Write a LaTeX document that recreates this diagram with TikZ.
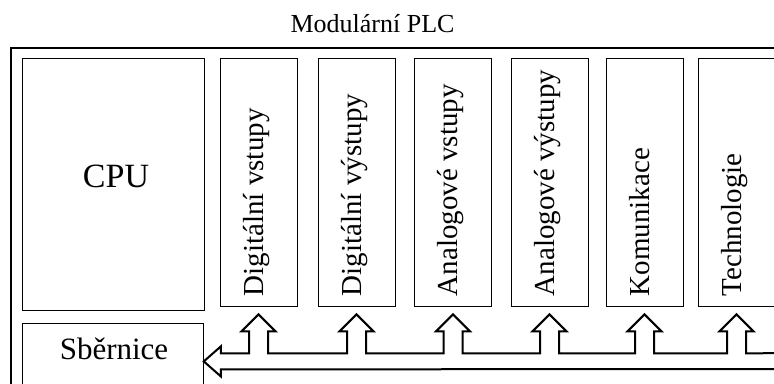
\documentclass[tikz,border=0pt]{standalone}
\usepackage{fontspec}
\setmainfont{Liberation Serif}
\usetikzlibrary{calc}

\begin{document}
\begin{tikzpicture}[x=1pt, y=-1pt,
  ramec/.style={draw, line width=0.8pt, inner sep=0pt},
  modul/.style={ramec, minimum width=77pt, minimum height=248pt},
  popis/.style={rotate=90, anchor=base west, inner sep=0pt, font=\fontsize{29}{29}\selectfont},
  sbernice/.style={draw, line width=2pt, line join=miter}]
\clip (0,0) rectangle (774,383);
\useasboundingbox (0,0) rectangle (774,383);

\draw[line width=2pt] (11,48) rectangle (800,420);
\draw(372.5,32) node (nazev) [anchor=base, font=\fontsize{26}{26}\selectfont]{Modulární PLC};

\node (cpu) [ramec, anchor=north west, minimum width=182pt, minimum height=252pt] at (22,58) {};
\node (cputxt) [anchor=base, font=\fontsize{34}{34}\selectfont] at (116,187) {CPU};

\node (sb) [ramec, anchor=north west, minimum width=181pt, minimum height=76pt] at (22,323) {};
\node (sbtxt) [anchor=base, font=\fontsize{31}{31}\selectfont] at (114,359) {Sběrnice};

\foreach \x/\txt [count=\i] in {258.5/Digitální vstupy, 356.5/Digitální výstupy,
    453/Analogové vstupy, 549.5/Analogové výstupy, 644.5/Komunikace, 736.5/Technologie}{
  \node (m\i) [modul] at (\x,182) {};
  \node (p\i) [popis] at ($(m\i.south)+(4.5,-10)$) {\txt};
  \coordinate (t\i) at ($(m\i.south)+(0,8)$);
}

\draw[sbernice] (790,353)
  \foreach \i in {6,...,1}{
    -- ($(t\i)+(9.5,39)$) -- ($(t\i)+(9.5,17)$) -- ($(t\i)+(17,17)$) -- (t\i)
    -- ($(t\i)+(-17,17)$) -- ($(t\i)+(-9.5,17)$) -- ($(t\i)+(-9.5,39)$)
  }
  -- ($(sb.east)+(17,-8)$) -- ($(sb.east)+(17,-15)$) -- (sb.east)
  -- ($(sb.east)+(17,15)$) -- ($(sb.east)+(17,8)$) -- (790,369);
\end{tikzpicture}
\end{document}
